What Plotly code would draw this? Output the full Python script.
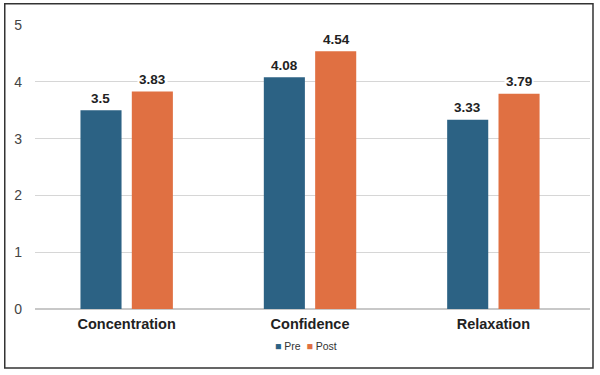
import plotly.graph_objects as go

categories = ["Concentration", "Confidence", "Relaxation"]
pre = [3.5, 4.08, 3.33]
post = [3.83, 4.54, 3.79]
pre_labels = ["3.5", "4.08", "3.33"]
post_labels = ["3.83", "4.54", "3.79"]
series_names = ["Pre", "Post"]

PRE_COLOR = "#2C6284"
POST_COLOR = "#E07042"
FONT = "Liberation Sans, Arial"

fig = go.Figure()
fig.add_trace(go.Bar(name=series_names[0], x=categories, y=pre, marker=dict(color=PRE_COLOR, line=dict(width=0))))
fig.add_trace(go.Bar(name=series_names[1], x=categories, y=post, marker=dict(color=POST_COLOR, line=dict(width=0))))

annotations = []
for vals, labs, shift in ((pre, pre_labels, -26), (post, post_labels, 26)):
    for cat, v, lab in zip(categories, vals, labs):
        annotations.append(dict(x=cat, y=v, text="<b>" + lab + "</b>", xshift=shift, yshift=12,
                                showarrow=False, bgcolor="white", borderpad=1,
                                font=dict(family=FONT, size=13.5, color="#222")))

legend_text = (f"<span style='color:{PRE_COLOR}'>■</span> {series_names[0]}  "
               f"<span style='color:{POST_COLOR}'>■</span> {series_names[1]}")
annotations.append(dict(xref="paper", yref="paper", x=0.488, y=-0.13, yanchor="middle", xanchor="center",
                        text=legend_text, showarrow=False,
                        font=dict(family=FONT, size=10.5, color="#333")))

fig.update_layout(
    width=600, height=375,
    margin=dict(l=35, r=10, t=25, b=66, autoexpand=False),
    paper_bgcolor="white", plot_bgcolor="white",
    barmode="group", bargap=0.44, bargroupgap=0.2,
    font=dict(family=FONT, color="#333"),
    showlegend=False,
    annotations=annotations,
    shapes=[dict(type="rect", xref="paper", yref="paper",
                 x0=-0.0545, x1=1.0054, y0=-0.208, y1=1.0744,
                 line=dict(color="#333", width=1.5), layer="below")],
    xaxis=dict(showgrid=False, showline=False, ticks="", automargin=False,
               range=[-0.5, 2.527],
               tickfont=dict(size=14.5, color="#222", family=FONT),
               tickvals=categories, ticktext=["<b>" + c + "</b>" for c in categories],
               ticklabelstandoff=4),
    yaxis=dict(range=[0, 5], dtick=1, showgrid=True, gridcolor="#D6D6D6", gridwidth=1.2,
               zeroline=True, zerolinecolor="#C8C8C8", zerolinewidth=1.5, automargin=False,
               showline=False, ticks="", tickfont=dict(size=14, color="#444"), ticklabelstandoff=12),
)

fig.write_html("out.html", config={"displayModeBar": False},
               post_script="document.body.style.margin='0';document.body.style.overflow='hidden';")
